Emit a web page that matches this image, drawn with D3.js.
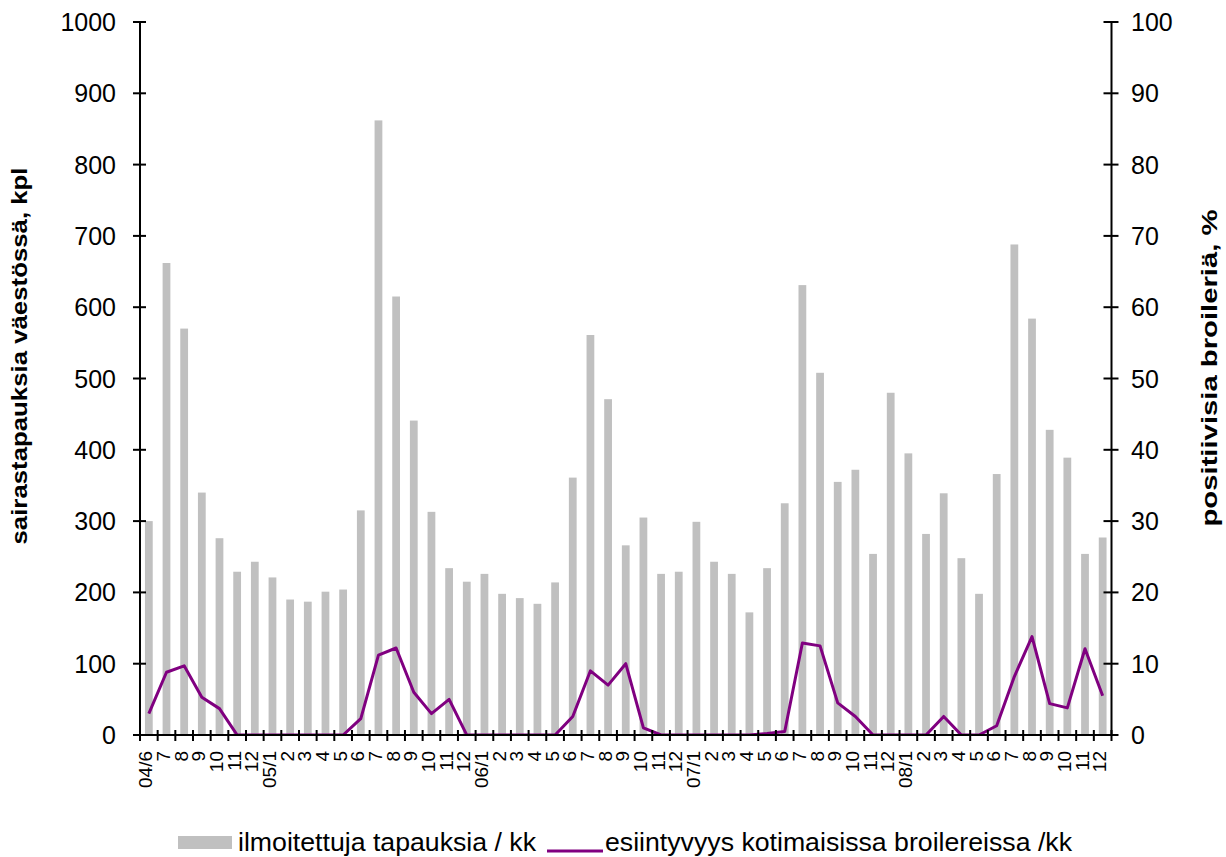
<!DOCTYPE html>
<html>
<head>
<meta charset="utf-8">
<script src="https://cdn.jsdelivr.net/npm/d3@7/dist/d3.min.js"></script>
<style>
  html, body { margin: 0; padding: 0; background: #fff; }
  svg { display: block; }
  text { font-family: "Liberation Sans", Arial, sans-serif; fill: #000; }
</style>
</head>
<body>
<svg id="chart" width="1226" height="857"></svg>
<script>
// ---- data ----
const monthLabels = [
  "04/6","7","8","9","10","11","12",
  "05/1","2","3","4","5","6","7","8","9","10","11","12",
  "06/1","2","3","4","5","6","7","8","9","10","11","12",
  "07/1","2","3","4","5","6","7","8","9","10","11","12",
  "08/1","2","3","4","5","6","7","8","9","10","11","12"
];
const reportedCases = [
  300,662,570,340,276,229,243,
  221,190,187,201,204,315,862,615,441,313,234,215,
  226,198,192,184,214,361,561,471,266,305,226,229,
  299,243,226,172,234,325,631,508,355,372,254,480,
  395,282,339,248,198,366,688,584,428,389,254,277
];
const broilerPrevalence = [
  3.0,8.8,9.7,5.3,3.7,0,0,
  0,0,0,0,0,2.3,11.2,12.2,6.0,3.0,5.0,0,
  0,0,0,0,0,2.6,9.0,7.0,10.0,1.0,0,0,
  0,0,0,0,0.2,0.5,12.9,12.5,4.5,2.6,0,0,
  0,0,2.6,0,0,1.3,8.2,13.8,4.4,3.8,12.1,5.5
];
const leftTicks = [0,100,200,300,400,500,600,700,800,900,1000];
const rightTicks = [0,10,20,30,40,50,60,70,80,90,100];
const seriesNames = ["ilmoitettuja tapauksia / kk", "esiintyvyys kotimaisissa broilereissa /kk"];
const leftTitle = "sairastapauksia väestössä, kpl";
const rightTitle = "positiivisia broileriä, %";

// ---- layout ----
const X0 = 140, X1 = 1111.5, YT = 22, YB = 735;
const svg = d3.select("#chart");

const x = d3.scaleBand().domain(d3.range(monthLabels.length)).range([X0, X1])
  .paddingInner(0.56).paddingOuter(0.28);
const yL = d3.scaleLinear().domain([0, 1000]).range([YB, YT]);
const yR = d3.scaleLinear().domain([0, 100]).range([YB, YT]);
const step = x.step();

// bars
svg.append("g").selectAll("rect").data(reportedCases).join("rect")
  .attr("x", (d, i) => x(i))
  .attr("y", d => yL(d))
  .attr("width", x.bandwidth())
  .attr("height", d => YB - yL(d))
  .attr("fill", "#c0c0c0");

// line (clipped just above the baseline so zero runs hide behind the axis)
svg.append("clipPath").attr("id", "clipAbove").append("rect")
  .attr("x", 0).attr("y", 0).attr("width", 1226).attr("height", YB - 1);
const line = d3.line()
  .x((d, i) => x(i) + x.bandwidth() / 2)
  .y(d => yR(d));
svg.append("path").datum(broilerPrevalence)
  .attr("clip-path", "url(#clipAbove)")
  .attr("d", line)
  .attr("fill", "none")
  .attr("stroke", "#800080")
  .attr("stroke-width", 3)
  .attr("stroke-linejoin", "round");

// axes
const axisColor = "#000";
// left axis
const gL = svg.append("g");
gL.append("line").attr("x1", X0).attr("x2", X0).attr("y1", YT).attr("y2", YB)
  .attr("stroke", axisColor).attr("stroke-width", 2);
gL.selectAll("line.t").data(leftTicks).join("line").attr("class", "t")
  .attr("x1", X0 - 7).attr("x2", X0 + 6)
  .attr("y1", d => yL(d)).attr("y2", d => yL(d))
  .attr("stroke", axisColor).attr("stroke-width", 2);
gL.selectAll("text").data(leftTicks).join("text")
  .attr("x", 116).attr("y", d => yL(d))
  .attr("text-anchor", "end").attr("dominant-baseline", "central")
  .style("font-size", "25px")
  .text(d => d);

// right axis
const gR = svg.append("g");
gR.append("line").attr("x1", X1).attr("x2", X1).attr("y1", YT).attr("y2", YB)
  .attr("stroke", axisColor).attr("stroke-width", 2);
gR.selectAll("line.t").data(rightTicks).join("line").attr("class", "t")
  .attr("x1", X1 - 8).attr("x2", X1 + 7)
  .attr("y1", d => yR(d)).attr("y2", d => yR(d))
  .attr("stroke", axisColor).attr("stroke-width", 2);
gR.selectAll("text").data(rightTicks).join("text")
  .attr("x", 1131).attr("y", d => yR(d))
  .attr("text-anchor", "start").attr("dominant-baseline", "central")
  .style("font-size", "25px")
  .text(d => d);

// bottom axis
const gB = svg.append("g");
gB.append("line").attr("x1", X0).attr("x2", X1).attr("y1", YB).attr("y2", YB)
  .attr("stroke", axisColor).attr("stroke-width", 2);
const tickPos = d3.range(monthLabels.length + 1).map(i => X0 + i * step);
gB.selectAll("line.t").data(tickPos).join("line").attr("class", "t")
  .attr("x1", d => d).attr("x2", d => d)
  .attr("y1", YB - 5).attr("y2", YB + 6)
  .attr("stroke", axisColor).attr("stroke-width", 2);
gB.selectAll("text").data(monthLabels).join("text")
  .attr("transform", (d, i) => `translate(${x(i) + x.bandwidth() / 2 - 3},751) rotate(-90)`)
  .attr("text-anchor", "end").attr("dominant-baseline", "central")
  .style("font-size", "19px")
  .text(d => d);

// axis titles
svg.append("text")
  .attr("transform", `translate(19,356) rotate(-90)`)
  .attr("text-anchor", "middle").attr("dominant-baseline", "central")
  .style("font-size", "22px").style("font-weight", "bold")
  .attr("textLength", 377).attr("lengthAdjust", "spacingAndGlyphs")
  .text(leftTitle);
svg.append("text")
  .attr("transform", `translate(1209,368) rotate(-90)`)
  .attr("text-anchor", "middle").attr("dominant-baseline", "central")
  .style("font-size", "22px").style("font-weight", "bold")
  .attr("textLength", 317).attr("lengthAdjust", "spacingAndGlyphs")
  .text(rightTitle);

// legend
const lg = svg.append("g");
lg.append("rect").attr("x", 178).attr("y", 836).attr("width", 54).attr("height", 13)
  .attr("fill", "#c0c0c0");
lg.append("text").attr("x", 238).attr("y", 851)
  .style("font-size", "26px")
  .attr("textLength", 298).attr("lengthAdjust", "spacingAndGlyphs")
  .text(seriesNames[0]);
lg.append("line").attr("x1", 547).attr("x2", 603).attr("y1", 851).attr("y2", 851)
  .attr("stroke", "#800080").attr("stroke-width", 3);
lg.append("text").attr("x", 605).attr("y", 851)
  .style("font-size", "26px")
  .attr("textLength", 467).attr("lengthAdjust", "spacingAndGlyphs")
  .text(seriesNames[1]);
</script>
</body>
</html>
